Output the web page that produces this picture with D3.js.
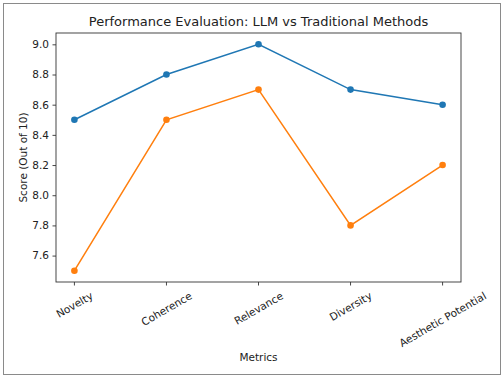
<!DOCTYPE html>
<html>
<head>
<meta charset="utf-8">
<script src="https://cdn.jsdelivr.net/npm/d3@7"></script>
<style>
  body { margin: 0; background: #fff; }
  svg text { font-family: "DejaVu Sans", sans-serif; fill: #222; }
</style>
</head>
<body>
<svg id="chart" width="504" height="377"></svg>
<script>
const metrics = ["Novelty", "Coherence", "Relevance", "Diversity", "Aesthetic Potential"];
const llmScores = [8.5, 8.8, 9.0, 8.7, 8.6];
const traditionalScores = [7.5, 8.5, 8.7, 7.8, 8.2];
const yTicks = [7.6, 7.8, 8.0, 8.2, 8.4, 8.6, 8.8, 9.0];

const svg = d3.select("#chart");
const axLeft = 56, axRight = 461, axTop = 33, axBottom = 282;
const tickFont = 10.5;

// outer frame
svg.append("rect")
  .attr("x", 3.5).attr("y", 3.5)
  .attr("width", 497).attr("height", 371)
  .attr("fill", "none").attr("stroke", "#8a8a8a").attr("stroke-width", 1);

let x = d3.scaleLinear().domain([-0.2, 4.2]).range([axLeft, axRight]);
let y = d3.scaleLinear().domain([7.425, 9.075]).range([axBottom, axTop]);

// y axis
let yAxis = d3.axisLeft(y).tickValues(yTicks).tickFormat(d3.format(".1f"))
  .tickSizeInner(3.5).tickSizeOuter(0).tickPadding(3.5);
let yG = svg.append("g").attr("transform", "translate(" + axLeft + ",0)").call(yAxis);
yG.select(".domain").remove();
yG.selectAll("line").attr("stroke", "#333").attr("stroke-width", 0.9);
yG.selectAll("text").attr("font-size", tickFont).style("font-family", "DejaVu Sans").attr("fill", "#222");

// x ticks
let xG = svg.append("g");
xG.selectAll("line").data(metrics).enter().append("line")
  .attr("x1", (d, i) => x(i)).attr("x2", (d, i) => x(i))
  .attr("y1", axBottom).attr("y2", axBottom + 3.5)
  .attr("stroke", "#333").attr("stroke-width", 0.9);

let labels = xG.selectAll("text").data(metrics).enter().append("text")
  .attr("font-size", tickFont)
  .attr("text-anchor", "middle")
  .attr("dominant-baseline", "central")
  .text(d => d);
labels.each(function (d, i) {
  let w = this.getComputedTextLength();
  let h = tickFont * 1.0;
  let a = Math.PI / 6;
  let bh = w * Math.sin(a) + h * Math.cos(a);
  let cx = x(i), cy = axBottom + 8 + bh / 2;
  d3.select(this).attr("x", 0).attr("y", 0)
    .attr("transform", "translate(" + cx + "," + cy + ") rotate(-30)");
});

// spines
svg.append("rect")
  .attr("x", axLeft).attr("y", axTop)
  .attr("width", axRight - axLeft).attr("height", axBottom - axTop)
  .attr("fill", "none").attr("stroke", "#333").attr("stroke-width", 0.9);

// series
const series = [
  { values: llmScores, color: "#1f77b4" },
  { values: traditionalScores, color: "#ff7f0e" }
];
let line = d3.line().x((d, i) => x(i)).y(d => y(d));
series.forEach(s => {
  svg.append("path").datum(s.values)
    .attr("d", line).attr("fill", "none")
    .attr("stroke", s.color).attr("stroke-width", 1.5);
  svg.selectAll(null).data(s.values).enter().append("circle")
    .attr("cx", (d, i) => x(i)).attr("cy", d => y(d))
    .attr("r", 3.3).attr("fill", s.color);
});

// titles
svg.append("text").attr("x", (axLeft + axRight) / 2).attr("y", 26)
  .attr("text-anchor", "middle").attr("font-size", 13)
  .text("Performance Evaluation: LLM vs Traditional Methods");
svg.append("text").attr("x", (axLeft + axRight) / 2).attr("y", 361)
  .attr("text-anchor", "middle").attr("font-size", tickFont)
  .text("Metrics");
svg.append("text")
  .attr("transform", "translate(27," + (axTop + axBottom) / 2 + ") rotate(-90)")
  .attr("text-anchor", "middle").attr("font-size", tickFont)
  .text("Score (Out of 10)");
</script>
</body>
</html>
